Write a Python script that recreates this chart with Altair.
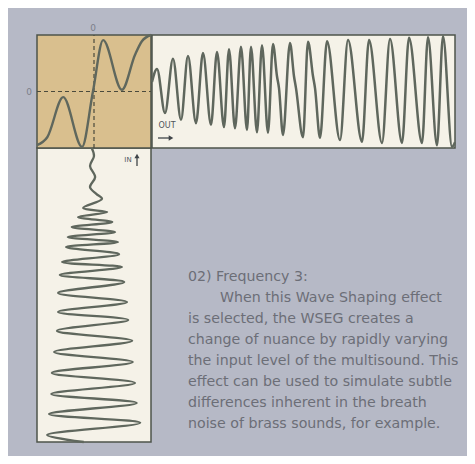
import altair as alt
import pandas as pd

# ---- transfer function in the shaded square: input level -> output level ----
TF_IN = [-1.0, -0.82, -0.54, -0.21, -0.02, 0.16, 0.49, 0.72, 0.84, 1.0]
TF_OUT = [-0.95, -0.81, -0.10, -0.98, -0.01, 0.91, 0.03, 0.65, 0.89, 1.0]

# ---- output waveform (time 0-100 -> output level) ----
OUT_T = [0, 1.65, 4.29, 6.93, 9.57, 11.88, 14.52, 16.83, 19.47, 21.45,
         23.76, 25.41, 27.39, 29.37, 31.35, 32.67, 34.65, 36.30, 38.28, 39.93,
         41.25, 41.91, 43.23, 45.54, 46.86, 47.52, 49.83, 51.49, 53.14, 53.80,
         55.45, 57.76, 62.05, 64.69, 69.31, 71.62, 75.91, 78.55, 82.51, 84.82,
         89.11, 91.09, 94.06, 96.04, 99.01, 100]
OUT_A = [0.17, 0.40, -0.38, 0.58, -0.50, 0.63, -0.56, 0.68, -0.59, 0.70,
         -0.63, 0.75, -0.65, 0.79, -0.68, 0.79, -0.72, 0.82, -0.73, 0.84,
         0.27, 0.06, -0.77, 0.86, 0.27, 0.06, -0.81, 0.88, 0.27, 0.06,
         -0.82, 0.89, -0.86, 0.91, -0.89, 0.91, -0.91, 0.93, -0.91, 0.95,
         -0.91, 0.96, -0.95, 0.98, -0.98, -0.90]

# ---- input waveform (time 0-100 running downward -> input level) ----
IN_T = [0, 2.7, 6.1, 9.9, 13.3, 15.6, 17.3, 20.4, 21.8, 23.5, 25.2, 26.9,
        28.6, 30.3, 32.0, 33.7, 36.1, 38.8, 40.5, 43.2, 45.6, 49.3, 52.4,
        55.8, 58.5, 62.2, 65.6, 69.4, 72.8, 76.5, 79.9, 83.7, 86.7, 90.5,
        93.5, 97.6, 100]
IN_A = [-0.04, 0.0, -0.07, 0.02, -0.07, 0.04, 0.14, -0.19, 0.23, -0.28,
        0.32, -0.39, 0.37, -0.46, 0.42, -0.49, 0.44, -0.56, 0.49, -0.60,
        0.53, -0.63, 0.58, -0.63, 0.60, -0.65, 0.67, -0.70, 0.68, -0.74,
        0.72, -0.75, 0.75, -0.79, 0.81, -0.82, -0.18]

TITLE_LINE = "02) Frequency 3:"
INDENT_LINE = "When this Wave Shaping effect"
BODY_LINES = [
    "is selected, the WSEG creates a",
    "change of nuance by rapidly varying",
    "the input level of the multisound. This",
    "effect can be used to simulate subtle",
    "differences inherent in the breath",
    "noise of brass sounds, for example.",
]

# ---- scales: level -1..1 and time 0..100 placed in the L-shaped frame ----
SX_IN = alt.Scale(domain=[-1, 1], range=[29, 143], nice=False, zero=False)
SY_OUT = alt.Scale(domain=[-1, 1], range=[140, 27], nice=False, zero=False)
SX_T = alt.Scale(domain=[0, 100], range=[144, 447], nice=False, zero=False)
SY_T = alt.Scale(domain=[0, 100], range=[140, 434], nice=False, zero=False)

LINE = "#5f675d"
EDGE = "#4d544b"
PANEL = "#f5f2e8"
TEXT = "#6c6e77"

tf = pd.DataFrame({"inp": TF_IN, "out": TF_OUT})
ow = pd.DataFrame({"t": OUT_T, "a": OUT_A})
iw = pd.DataFrame({"t": IN_T, "a": IN_A, "i": list(range(len(IN_T)))})
frame = pd.DataFrame({"lo": [-1], "hi": [1], "t0": [0], "t1": [100], "z": [0]})

out_box = alt.Chart(frame).mark_rect(fill=PANEL, stroke=EDGE, strokeWidth=1.5).encode(
    x=alt.X("t0:Q", scale=SX_T, axis=None), x2="t1:Q",
    y=alt.Y("lo:Q", scale=SY_OUT, axis=None), y2="hi:Q")

in_box = alt.Chart(frame).mark_rect(fill=PANEL, stroke=EDGE, strokeWidth=1.5).encode(
    x=alt.X("lo:Q", scale=SX_IN, axis=None), x2="hi:Q",
    y=alt.Y("t0:Q", scale=SY_T, axis=None), y2="t1:Q")

square = alt.Chart(frame).mark_rect(fill="#d9bf8e", stroke=EDGE, strokeWidth=1.5).encode(
    x=alt.X("lo:Q", scale=SX_IN, axis=None), x2="hi:Q",
    y=alt.Y("lo:Q", scale=SY_OUT, axis=None), y2="hi:Q")

h_dash = alt.Chart(frame).mark_rule(color="#4a4a3c", strokeWidth=1.2, strokeDash=[4, 3]).encode(
    x=alt.X("lo:Q", scale=SX_IN, axis=None), x2="hi:Q",
    y=alt.Y("z:Q", scale=SY_OUT, axis=None))

v_dash = alt.Chart(frame).mark_rule(color="#4a4a3c", strokeWidth=1.2, strokeDash=[4, 3]).encode(
    x=alt.X("z:Q", scale=SX_IN, axis=None),
    y=alt.Y("lo:Q", scale=SY_OUT, axis=None), y2="hi:Q")

tf_line = alt.Chart(tf).mark_line(color=LINE, strokeWidth=2.4, interpolate="monotone").encode(
    x=alt.X("inp:Q", scale=SX_IN, axis=None),
    y=alt.Y("out:Q", scale=SY_OUT, axis=None))

out_line = alt.Chart(ow).mark_line(color=LINE, strokeWidth=2.5, interpolate="monotone").encode(
    x=alt.X("t:Q", scale=SX_T, axis=None),
    y=alt.Y("a:Q", scale=SY_OUT, axis=None))

in_line = alt.Chart(iw).mark_line(color=LINE, strokeWidth=2.3, interpolate="catmull-rom").encode(
    x=alt.X("a:Q", scale=SX_IN, axis=None),
    y=alt.Y("t:Q", scale=SY_T, axis=None),
    order=alt.Order("i:Q"))

one = alt.Data(values=[{}])


def label(text, px, py, size, color, align="center", baseline="middle", line_height=None):
    kw = dict(text=text, fontSize=size, color=color, align=align,
              baseline=baseline, font="DejaVu Sans")
    if line_height is not None:
        kw["lineHeight"] = line_height
    return alt.Chart(one).mark_text(**kw).encode(x=alt.value(px), y=alt.value(py))


zero_top = label("0", 85, 20, 9, "#7d808a")
zero_left = label("0", 21, 84, 9, "#7d808a")
out_lbl = label("OUT", 159, 118, 8, "#4f545a")
in_lbl = label("IN", 120, 152, 7, "#4f545a")

# little arrows drawn as a rule with a triangle head
out_shaft = alt.Chart(one).mark_rule(color="#3f4448", strokeWidth=1.3).encode(
    x=alt.value(150), x2=alt.value(162), y=alt.value(130))
out_head = alt.Chart(one).mark_point(shape="triangle-right", filled=True, size=28,
                                     color="#3f4448", opacity=1).encode(
    x=alt.value(163), y=alt.value(130))
in_shaft = alt.Chart(one).mark_rule(color="#3f4448", strokeWidth=1.3).encode(
    x=alt.value(129), y=alt.value(149), y2=alt.value(158))
in_head = alt.Chart(one).mark_point(shape="triangle-up", filled=True, size=26,
                                    color="#3f4448", opacity=1).encode(
    x=alt.value(129), y=alt.value(148))

p_title = label(TITLE_LINE, 180, 273, 14.2, TEXT, align="left", baseline="alphabetic")
p_indent = label(INDENT_LINE, 212, 294, 14.2, TEXT, align="left", baseline="alphabetic")
p_body = label(BODY_LINES, 180, 315, 14.2, TEXT, align="left", baseline="alphabetic",
               line_height=21)

chart = alt.layer(
    out_box, in_box, square, h_dash, v_dash, tf_line, out_line, in_line,
    zero_top, zero_left, out_lbl, in_lbl, out_shaft, out_head, in_shaft, in_head,
    p_title, p_indent, p_body
).resolve_scale(x="independent", y="independent").properties(
    width=459, height=448, padding=0, background="#b6b9c6",
    autosize=alt.AutoSizeParams(type="none")
).configure_view(stroke=None)

chart.save("out.html", embed_options={"renderer": "svg", "actions": False})
